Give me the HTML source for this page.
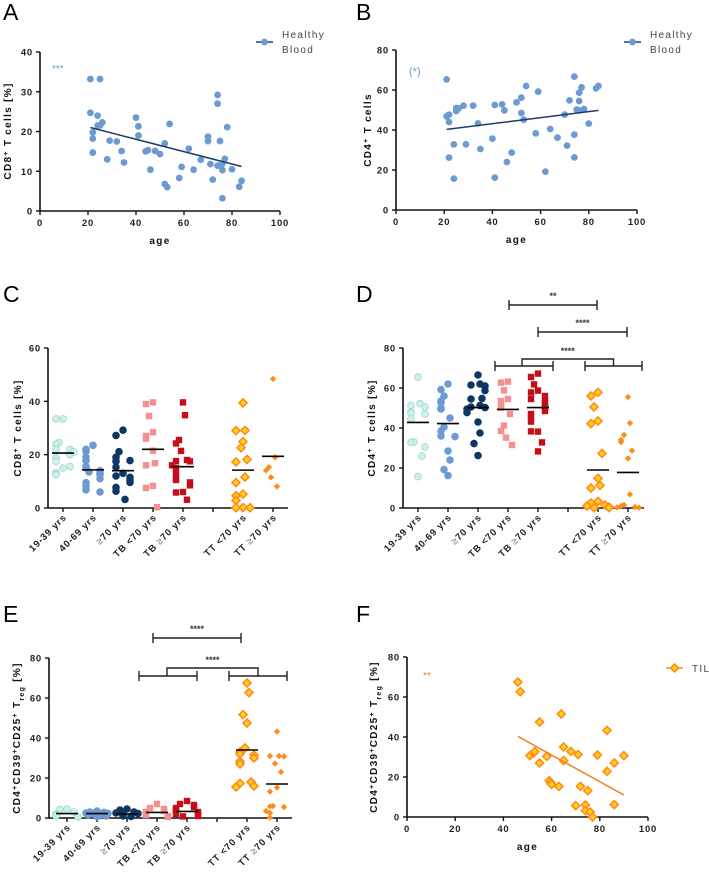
<!DOCTYPE html>
<html><head><meta charset="utf-8"><style>
html,body{margin:0;padding:0;background:#fff;}
svg{display:block;font-family:"Liberation Sans",sans-serif;}
.tk{font-size:9.5px;font-weight:bold;fill:#222;letter-spacing:0.8px;}
.yl{font-size:10px;font-weight:bold;fill:#111;letter-spacing:1.3px;}
.pl{font-size:23px;fill:#000;}
.lg{font-size:10px;fill:#444;letter-spacing:1.3px;}
</style></head><body>
<svg id="fig" width="709" height="874" viewBox="0 0 709 874" xmlns="http://www.w3.org/2000/svg"></svg>
<script>
// ---- Panel A data ----
const A_age=[21,25,21,24,26,24,25,22,22,22,28,29,32,34,35,40,41,41,44,45,46,48,50,52,52,53,54,58,59,62,64,67,70,70,71,72,74,74,74,75,76,76,76,77,78,80,83,84];
const A_val=[33.2,33.2,24.7,24,22.3,21.5,21.5,19.8,18.2,14.7,13,17.7,17.5,15.1,12.2,23.5,21.3,19,15,15.3,10.4,15.1,14.3,17,6.8,6,21.9,8.3,11.1,15.7,10.4,12.9,18.7,17.6,11.8,7.9,29.2,27,11.4,17.6,11.9,10.3,3.2,13.1,21.1,10.5,6.1,7.6];
const A_fit=[[21,21],[84,11.2]];
// ---- Panel B data ----
const B_age=[21,21,22,22,22,24,24,25,25,26,28,29,32,34,35,40,41,41,44,45,46,48,50,52,52,53,54,58,59,62,64,67,70,71,72,74,74,74,75,76,76,76,77,78,80,83,84];
const B_val=[65.3,46.8,47.7,44,26.2,32.8,15.7,51,49.5,50.8,52.2,32.8,52.2,43.3,30.5,35.7,52.5,16.2,52.8,49.8,24,28.7,53.8,56.2,48.5,45.2,62,38.3,59.2,19.2,40.5,36.2,47.7,32.2,54.8,66.7,37.7,26.3,50.2,58.7,54.5,49.8,61.3,50.5,43.2,60.8,62];
const B_fit=[[21,40.3],[84,49.8]];
// ---- Panel F data ----
const F_age=[46,47,51,52.5,53,55,55,58,59,59.6,60,63,64,65,65,68,70,71,72,74,74,75,76,77,79,83,83,86,86,90];
const F_val=[67.5,62.7,30.7,32,32.7,47.5,27,30.3,18.2,17.2,16.3,15.3,51.5,35,28.2,32.8,5.7,31.2,15.3,6,3.2,13.2,2.5,0,31,43.3,22.8,27,6.2,30.7];
const F_fit=[[46,40.3],[90,11]];
// ---- Categorical groups ----
const groups=["19-39 yrs","40-69 yrs","≥70 yrs","TB <70 yrs","TB ≥70 yrs","","TT <70 yrs","TT ≥70 yrs"];
const C_vals=[
 [33.4,33.4,24.6,24,22,21.9,20,18.8,17.5,15,13.1,12.5,15.6,21],
 [23.5,22,21.2,19,17.8,15.6,15,14,13,12.5,11,9.5,8.2,6.8,6,13.5],
 [29.2,27.2,21.1,19,17.5,15.3,13,12,11.5,10.5,9.6,7.7,6.3,3.2,17.8],
 [39.6,39,34.5,28.4,27,26,21.5,16.8,16,8.3,7.5,0.3],
 [39.6,34.8,25.5,24.2,21.4,18,17.6,17.5,16,15,13.2,11.2,10.5,9.6,8.5,6,5.8,3.1],
 [],
 [39.4,29.1,29,24.9,22.6,18.2,17.3,11.6,9.5,5.2,4.6,2.8,0.2,0.1,0.1],
 [48.4,19,15.3,14.1,11.5,8.1]];
const C_med=[20.6,14.3,14,22,15.5,null,14.2,19.4];
const D_vals=[
 [65.4,52.2,51.3,50.5,48,47.5,47,44.5,33,32.7,30.5,26,15.7],
 [62,59.2,56,53.5,52.8,50,49.5,45,40.5,38.5,36,35.7,28.5,24,19.2,16.2],
 [66.5,62,61.5,61,58.7,54.8,54.5,51.2,50.5,50.2,49.5,47.7,43,37.5,32.2,26.2],
 [63.2,62.7,58.8,54.5,53.5,51.5,50.2,47,41.2,38.5,35.2,31.5],
 [67.2,65.5,61.8,58.7,57.8,56,54.5,53.5,52.2,51,50,48.5,47,45.5,43.2,38.2,38.3,32.8,28.3],
 [],
 [57.8,56,50.5,43.5,42.2,27.3,14.8,11.3,10,3.3,2.5,1.5,1,0.5,0.2,0.1],
 [55.5,42.5,36.5,34,33,28.7,24.8,6.8,1.5,1,0.5,0.3,0.2]];
const D_med=[42.8,42.2,50.2,49.3,50.2,null,19,17.8];
const E_vals=[
 [4.5,4.2,3,2,1.5,1,0.5],
 [3.5,3,2.8,2.5,2.3,2,1.8,1.5,1,0.8],
 [4.5,4,3,2.5,2.2,2,1.5,1,0.8],
 [7,5,4.5,3.5,3,2,1.5,1,0.5],
 [8.5,7,6.5,5.5,5,4,3.5,3,2,1.5,1,0.8],
 [],
 [67.5,62.7,51.7,47.5,35,33,32,31.5,30,28.3,27,18,17.3,16,15.5],
 [43.2,31,31,30.8,27.2,23,15.2,13.2,6,5.8,5.5,3.5,2.5,0.2]];
const E_med=[2.2,2.2,2,2.8,3.3,null,34,17];

const NS="http://www.w3.org/2000/svg";
const svg=document.getElementById('fig');
function mk(tag,attrs,parent){const e=document.createElementNS(NS,tag);for(const k in attrs)e.setAttribute(k,attrs[k]);(parent||svg).appendChild(e);return e;}
function txt(s,attrs,parent){const e=mk('text',attrs,parent);e.textContent=s;return e;}

const styles=[
 {shape:'circle',fill:'#cdf0ea',stroke:'#9ad8cf'},
 {shape:'circle',fill:'#6b9bd1',stroke:'#6b9bd1'},
 {shape:'circle',fill:'#0e3763',stroke:'#0e3763'},
 {shape:'square',fill:'#f58f92',stroke:'#f58f92'},
 {shape:'square',fill:'#c40f1a',stroke:'#c40f1a'},
 null,
 {shape:'dOpen',fill:'#ffd21f',stroke:'#ff8c1a'},
 {shape:'dSmall',fill:'#ff8c1a',stroke:'#ff8c1a'}];
const JIT=[0,-7,7,-11,11,-4,4,-9,9];
const ALT=[-4,4];

function marker(g,st,x,y){
 let e;
 if(st.shape==='circle') e=mk('circle',{cx:x,cy:y,r:3.4,fill:st.fill,stroke:st.stroke,'stroke-width':0.8},g);
 else if(st.shape==='square') e=mk('rect',{x:x-3.2,y:y-3.2,width:6.4,height:6.4,fill:st.fill},g);
 else if(st.shape==='dOpen') e=mk('polygon',{points:`${x},${y-4} ${x+4},${y} ${x},${y+4} ${x-4},${y}`,fill:st.fill,stroke:st.stroke,'stroke-width':1.6},g);
 else e=mk('polygon',{points:`${x},${y-3.2} ${x+3.2},${y} ${x},${y+3.2} ${x-3.2},${y}`,fill:st.fill},g);
 return e;
}

function yLabel(g,x,cy,parts){
 const t=mk('text',{class:'yl',transform:`translate(${x},${cy}) rotate(-90)`,'text-anchor':'middle'},g);
 
 
 parts.forEach(p=>{const ts=mk('tspan',{},t);ts.textContent=p[0];
  if(p[1]==='sup'){ts.setAttribute('baseline-shift','super');ts.setAttribute('font-size','7px');}
  if(p[1]==='sub'){ts.setAttribute('baseline-shift','sub');ts.setAttribute('font-size','7px');}});
}

function yAxis(g,x0,yB,yT,ticks,max){
 const sy=v=>yB-(v/max)*(yB-yT);
 const ax=mk('line',{x1:x0,y1:yB,x2:x0,y2:yT,stroke:'#111','stroke-width':1.6},g);
 
 
 ticks.forEach(v=>{mk('line',{x1:x0-4,x2:x0,y1:sy(v),y2:sy(v),stroke:'#111','stroke-width':1.4},g);
  const t=txt(String(v),{class:'tk',x:x0-7,y:sy(v)+3.5,'text-anchor':'end'},g);
  
  });
 return sy;
}

function scatterPanel(name,o){
 const g=mk('g',{});
 
 
 const sx=v=>o.x0+(v/100)*(o.x1-o.x0);
 const sy=yAxis(g,o.x0,o.yB,o.yT,o.yTicks,o.yMax);
 const xa=mk('line',{x1:o.x0,y1:o.yB,x2:o.x1,y2:o.yB,stroke:'#111','stroke-width':1.6},g);
 
 
 [0,20,40,60,80,100].forEach(v=>{mk('line',{x1:sx(v),x2:sx(v),y1:o.yB,y2:o.yB+4,stroke:'#111','stroke-width':1.4},g);
  const t=txt(String(v),{class:'tk',x:sx(v),y:o.yB+15,'text-anchor':'middle'},g);
  
  });
 const xl=txt('age',{class:'yl',x:(o.x0+o.x1)/2,y:o.yB+33,'text-anchor':'middle'},g);
 
 
 o.xs.forEach((a,i)=>{
  let m;
  if(o.diamond) m=marker(g,styles[6],sx(a),sy(o.ys[i]));
  else m=mk('circle',{cx:sx(a),cy:sy(o.ys[i]),r:3.4,fill:'#6b9bd1'},g);
  
  
 });
 const fl=mk('line',{x1:sx(o.fit[0][0]),y1:sy(o.fit[0][1]),x2:sx(o.fit[1][0]),y2:sy(o.fit[1][1]),stroke:o.lineColor,'stroke-width':1.5},g);
 
 
 return {g,sx,sy};
}

function stripPanel(name,o){
 const g=mk('g',{});
 
 
 const sy=yAxis(g,o.x0,o.yB,o.yT,o.yTicks,o.yMax);
 const cx=i=>o.c0+i*o.step;
 const xa=mk('line',{x1:o.x0,y1:o.yB,x2:o.x1,y2:o.yB,stroke:'#111','stroke-width':1.6},g);
 
 
 groups.forEach((lab,i)=>{
  mk('line',{x1:cx(i),x2:cx(i),y1:o.yB,y2:o.yB+4,stroke:'#111','stroke-width':1.4},g);
  if(!lab) return;
  const t=mk('text',{class:'tk',transform:`translate(${cx(i)+4},${o.yB+10}) rotate(-45)`,'text-anchor':'end'},g);
  
  
  lab.split('≥').forEach((p,k)=>{if(k>0){const s=mk('tspan',{fill:'#999'},t);s.textContent='≥';}
   const s2=mk('tspan',{},t);s2.textContent=p;});
 });
 o.vals.forEach((arr,i)=>{
  const st=styles[i]; if(!st) return;
  const placed=[];
  arr.forEach((v,k)=>{
   const y=sy(v);
   const n=placed.filter(p=>Math.abs(p-y)<6).length;
   placed.push(y);
   const off=n===0?ALT[k%2]*((k%3)/2):JIT[n%JIT.length];
   const m=marker(g,st,cx(i)+off,y);
   
   
  });
 });
 o.med.forEach((v,i)=>{ if(v===null) return;
  const l=mk('line',{x1:cx(i)-11,x2:cx(i)+11,y1:sy(v),y2:sy(v),stroke:'#000','stroke-width':1.6},g);
  
  
 });
 return {g,sy,cx};
}

function bracket(g,x1,x2,y,label){
 const b=mk('path',{d:`M${x1},${y-5}V${y+5}M${x1},${y}H${x2}M${x2},${y-5}V${y+5}`,stroke:'#222','stroke-width':1.4,fill:'none'},g);
 
 
 if(label){const t=txt(label,{x:(x1+x2)/2,y:y-6,'text-anchor':'middle','font-size':'9px','font-weight':'bold',fill:'#333'},g);
  
  }
}
function groupBracket(g,l1,l2,l3,r1,r3,yLow,yTop,label){
 bracket(g,l1,l3,yLow);bracket(g,r1,r3,yLow);
 const p=mk('path',{d:`M${l2},${yLow}V${yTop}H${(r1+r3)/2}V${yLow}`,stroke:'#222','stroke-width':1.4,fill:'none'},g);
 
 
 const t=txt(label,{x:(l2+(r1+r3)/2)/2,y:yTop-5,'text-anchor':'middle','font-size':'9px','font-weight':'bold',fill:'#333'},g);
 
 
}

function legend(x,y,line1,line2,diamond){
 const g=mk('g',{});
 
 
 mk('line',{x1:x,x2:x+17,y1:y,y2:y,stroke:diamond?'#ff8c1a':'#1f3f6b','stroke-width':1.5},g);
 if(diamond) marker(g,styles[6],x+8.5,y); else mk('circle',{cx:x+8.5,cy:y,r:3.4,fill:'#6b9bd1'},g);
 txt(line1,{class:'lg',x:x+26,y:line2?y-4:y+4},g);
 if(line2) txt(line2,{class:'lg',x:x+26,y:y+11},g);
}
function panelLabel(s,x,y){const t=txt(s,{class:'pl',x:x,y:y});
 
 }

// Panel A
panelLabel('A',3,20);
const pa=scatterPanel('panel-a',{x0:40,x1:280,yB:211,yT:52,yTicks:[0,10,20,30,40],yMax:40,xs:A_age,ys:A_val,fit:A_fit,lineColor:'#1f3a66'});
yLabel(pa.g,11,131,[['CD8'],['+','sup'],[' T cells [%]']]);
txt('***',{x:52,y:72,'font-size':'10px',fill:'#6b9bd1'},pa.g);
legend(256,42,'Healthy','Blood');
// Panel B
panelLabel('B',356,20);
const pb=scatterPanel('panel-b',{x0:396,x1:637,yB:210,yT:50,yTicks:[0,20,40,60,80],yMax:80,xs:B_age,ys:B_val,fit:B_fit,lineColor:'#1f3a66'});
yLabel(pb.g,371,130,[['CD4'],['+','sup'],[' T cells']]);
txt('(*)',{x:409,y:75,'font-size':'11px',fill:'#6b9bd1'},pb.g);
legend(624,42,'Healthy','Blood');
// Panel C
panelLabel('C',3,302);
const pc=stripPanel('panel-c',{x0:48,x1:288,yB:508,yT:348,yTicks:[0,20,40,60],yMax:60,c0:63,step:30,vals:C_vals,med:C_med});
yLabel(pc.g,21,428,[['CD8'],['+','sup'],[' T cells [%]']]);
// Panel D
panelLabel('D',356,302);
const pd=stripPanel('panel-d',{x0:403,x1:644,yB:508,yT:348,yTicks:[0,20,40,60,80],yMax:80,c0:418,step:30,vals:D_vals,med:D_med});
yLabel(pd.g,375,428,[['CD4'],['+','sup'],[' T cells [%]']]);
bracket(pd.g,509,597,305,'**');
bracket(pd.g,538,627,332,'****');
groupBracket(pd.g,495,522,553,585,642,366,359,'****');
// Panel E
panelLabel('E',3,622);
const pe=stripPanel('panel-e',{x0:49,x1:292,yB:818,yT:658,yTicks:[0,20,40,60,80],yMax:80,c0:67,step:30,vals:E_vals,med:E_med});
yLabel(pe.g,20,738,[['CD4'],['+','sup'],['CD39'],['+','sup'],['CD25'],['+','sup'],[' T'],['reg','sub'],[' [%]']]);
bracket(pe.g,153,241,638,'****');
groupBracket(pe.g,139,167,197,229,287,676,668,'****');
// Panel F
panelLabel('F',356,622);
const pf=scatterPanel('panel-f',{x0:407,x1:648,yB:817,yT:657,yTicks:[0,20,40,60,80],yMax:80,xs:F_age,ys:F_val,fit:F_fit,lineColor:'#f07f1c',diamond:true});
yLabel(pf.g,377,737,[['CD4'],['+','sup'],['CD39'],['+','sup'],['CD25'],['+','sup'],[' T'],['reg','sub'],[' [%]']]);
txt('**',{x:423,y:679,'font-size':'10px',fill:'#f07f1c'},pf.g);
legend(666,668,'TIL',null,true);
</script>
</body></html>
